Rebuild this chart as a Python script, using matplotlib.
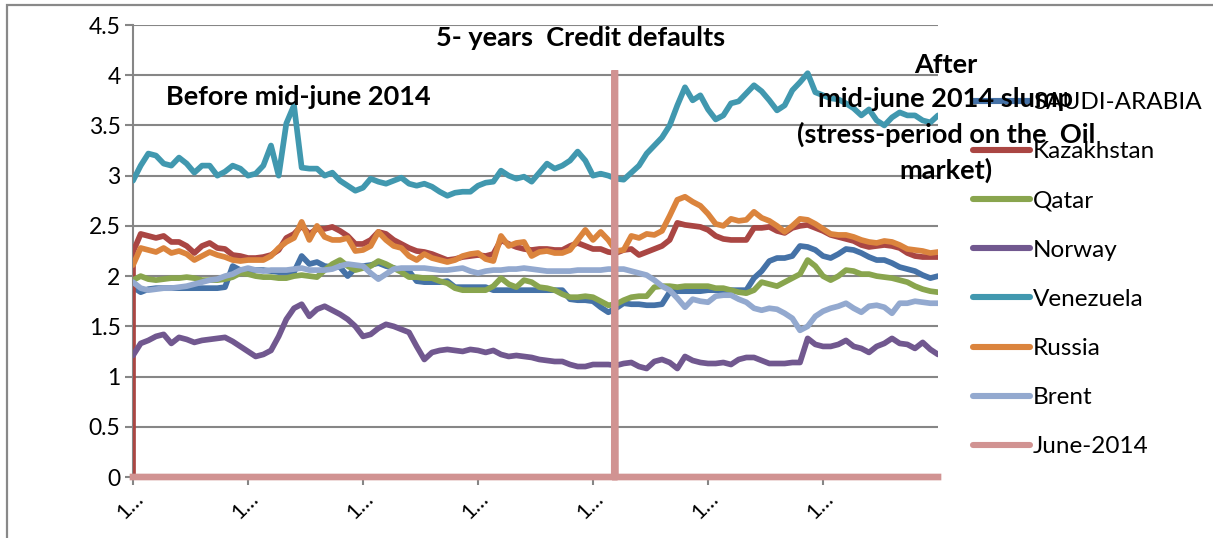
import numpy as np
import matplotlib
matplotlib.use("Agg")
import matplotlib.pyplot as plt
from matplotlib.patches import Rectangle

plt.rcParams['font.family'] = ['Lato', 'DejaVu Sans']

# ---------------- data (sampled readings, 106 samples over ~1400 trading days) ----------------
n_days = 1400
june_day = 838
june_level = 4.05
kaz_first_value = 0.0

saudi = [1.89, 1.84, 1.87, 1.88, 1.88, 1.88, 1.88, 1.88, 1.88, 1.88,
         1.88, 1.88, 1.89, 2.10, 2.06, 2.06, 2.06, 2.06, 2.05, 2.04,
         2.04, 2.04, 2.20, 2.12, 2.14, 2.10, 2.09, 2.09, 2.00, 2.08,
         2.10, 2.11, 2.13, 2.10, 2.08, 2.06, 2.05, 1.95, 1.94, 1.94,
         1.94, 1.95, 1.89, 1.89, 1.89, 1.89, 1.89, 1.86, 1.86, 1.86,
         1.86, 1.86, 1.86, 1.86, 1.86, 1.86, 1.86, 1.77, 1.76, 1.76,
         1.75, 1.69, 1.64, 1.68, 1.73, 1.72, 1.72, 1.71, 1.71, 1.72,
         1.84, 1.85, 1.85, 1.85, 1.85, 1.86, 1.86, 1.86, 1.86, 1.86,
         1.86, 1.98, 2.05, 2.15, 2.18, 2.18, 2.20, 2.30, 2.29, 2.26,
         2.20, 2.18, 2.22, 2.27, 2.26, 2.23, 2.19, 2.16, 2.16, 2.13,
         2.09, 2.07, 2.05, 2.01, 1.98, 2.00]

kazakhstan = [2.24, 2.42, 2.40, 2.38, 2.40, 2.34, 2.34, 2.30, 2.23, 2.30,
              2.33, 2.28, 2.27, 2.21, 2.20, 2.18, 2.18, 2.19, 2.21, 2.26,
              2.38, 2.42, 2.50, 2.42, 2.47, 2.47, 2.49, 2.45, 2.40, 2.32,
              2.32, 2.36, 2.44, 2.42, 2.36, 2.32, 2.28, 2.25, 2.24, 2.22,
              2.19, 2.16, 2.17, 2.19, 2.20, 2.21, 2.20, 2.22, 2.36, 2.32,
              2.29, 2.27, 2.26, 2.27, 2.27, 2.26, 2.26, 2.30, 2.33, 2.30,
              2.27, 2.27, 2.24, 2.23, 2.26, 2.27, 2.21, 2.24, 2.27, 2.30,
              2.36, 2.53, 2.51, 2.50, 2.49, 2.46, 2.40, 2.37, 2.36, 2.36,
              2.36, 2.48, 2.48, 2.49, 2.45, 2.43, 2.48, 2.50, 2.51, 2.48,
              2.45, 2.41, 2.39, 2.37, 2.35, 2.31, 2.29, 2.30, 2.31, 2.30,
              2.28, 2.23, 2.20, 2.19, 2.19, 2.19]

qatar = [1.96, 2.00, 1.97, 1.96, 1.97, 1.98, 1.98, 1.99, 1.98, 1.96,
         1.96, 1.96, 1.97, 1.99, 2.03, 2.02, 2.00, 1.99, 1.99, 1.98,
         1.98, 2.00, 2.01, 2.00, 1.99, 2.06, 2.12, 2.16, 2.10, 2.06,
         2.08, 2.10, 2.15, 2.12, 2.08, 2.04, 1.99, 1.99, 1.98, 1.98,
         1.95, 1.93, 1.88, 1.86, 1.86, 1.86, 1.86, 1.90, 1.98, 1.92,
         1.89, 1.96, 1.94, 1.89, 1.88, 1.86, 1.82, 1.79, 1.79, 1.80,
         1.79, 1.75, 1.71, 1.72, 1.76, 1.79, 1.80, 1.80, 1.89, 1.90,
         1.90, 1.89, 1.90, 1.90, 1.90, 1.90, 1.88, 1.88, 1.86, 1.84,
         1.83, 1.86, 1.94, 1.92, 1.90, 1.94, 1.98, 2.02, 2.16, 2.10,
         2.00, 1.96, 2.00, 2.06, 2.05, 2.02, 2.02, 2.00, 1.99, 1.98,
         1.96, 1.94, 1.90, 1.87, 1.85, 1.84]

norway = [1.21, 1.33, 1.36, 1.40, 1.42, 1.33, 1.39, 1.37, 1.34, 1.36,
          1.37, 1.38, 1.39, 1.35, 1.30, 1.25, 1.20, 1.22, 1.26, 1.40,
          1.57, 1.68, 1.72, 1.60, 1.67, 1.70, 1.66, 1.62, 1.57, 1.50,
          1.40, 1.42, 1.48, 1.52, 1.50, 1.47, 1.44, 1.30, 1.17, 1.24,
          1.26, 1.27, 1.26, 1.25, 1.27, 1.26, 1.24, 1.26, 1.22, 1.20,
          1.21, 1.20, 1.19, 1.17, 1.16, 1.15, 1.15, 1.12, 1.10, 1.10,
          1.12, 1.12, 1.12, 1.11, 1.13, 1.14, 1.10, 1.08, 1.15, 1.17,
          1.14, 1.08, 1.20, 1.16, 1.14, 1.13, 1.13, 1.14, 1.12, 1.17,
          1.19, 1.19, 1.16, 1.13, 1.13, 1.13, 1.14, 1.14, 1.38, 1.32,
          1.30, 1.30, 1.32, 1.36, 1.30, 1.28, 1.24, 1.30, 1.33, 1.38,
          1.33, 1.32, 1.28, 1.34, 1.27, 1.22]

venezuela = [2.95, 3.10, 3.22, 3.20, 3.12, 3.10, 3.18, 3.12, 3.03, 3.10,
             3.10, 3.00, 3.04, 3.10, 3.07, 3.00, 3.02, 3.10, 3.30, 3.00,
             3.52, 3.70, 3.08, 3.07, 3.07, 3.00, 3.03, 2.95, 2.90, 2.85,
             2.88, 2.97, 2.94, 2.92, 2.95, 2.98, 2.92, 2.90, 2.92, 2.89,
             2.84, 2.80, 2.83, 2.84, 2.84, 2.90, 2.93, 2.94, 3.05, 3.00,
             2.97, 2.99, 2.94, 3.03, 3.12, 3.07, 3.10, 3.15, 3.24, 3.15,
             3.00, 3.02, 3.00, 2.97, 2.96, 3.03, 3.10, 3.22, 3.30, 3.38,
             3.50, 3.70, 3.88, 3.75, 3.80, 3.66, 3.56, 3.60, 3.72, 3.74,
             3.82, 3.90, 3.84, 3.75, 3.65, 3.70, 3.85, 3.93, 4.02, 3.83,
             3.80, 3.77, 3.76, 3.72, 3.67, 3.60, 3.66, 3.55, 3.50, 3.58,
             3.63, 3.60, 3.60, 3.55, 3.53, 3.60]

russia = [2.11, 2.28, 2.26, 2.24, 2.28, 2.23, 2.25, 2.22, 2.16, 2.20,
          2.24, 2.21, 2.19, 2.16, 2.15, 2.16, 2.16, 2.16, 2.20, 2.28,
          2.34, 2.38, 2.54, 2.36, 2.50, 2.39, 2.36, 2.36, 2.38, 2.25,
          2.26, 2.30, 2.44, 2.36, 2.30, 2.28, 2.20, 2.16, 2.22, 2.18,
          2.16, 2.14, 2.16, 2.20, 2.22, 2.23, 2.17, 2.15, 2.40, 2.30,
          2.33, 2.34, 2.20, 2.24, 2.25, 2.23, 2.23, 2.26, 2.36, 2.46,
          2.36, 2.44, 2.36, 2.25, 2.26, 2.40, 2.38, 2.42, 2.41, 2.45,
          2.60, 2.76, 2.79, 2.74, 2.70, 2.62, 2.52, 2.50, 2.57, 2.55,
          2.56, 2.64, 2.58, 2.55, 2.50, 2.44, 2.50, 2.57, 2.56, 2.52,
          2.47, 2.42, 2.41, 2.41, 2.39, 2.36, 2.34, 2.33, 2.35, 2.34,
          2.31, 2.27, 2.26, 2.25, 2.23, 2.24]

brent = [1.94, 1.88, 1.86, 1.87, 1.88, 1.88, 1.89, 1.90, 1.92, 1.94,
         1.96, 1.97, 2.00, 2.02, 2.06, 2.08, 2.06, 2.05, 2.06, 2.06,
         2.06, 2.07, 2.08, 2.06, 2.06, 2.06, 2.07, 2.10, 2.12, 2.11,
         2.10, 2.03, 1.97, 2.02, 2.07, 2.08, 2.08, 2.08, 2.08, 2.07,
         2.06, 2.06, 2.07, 2.08, 2.05, 2.03, 2.05, 2.06, 2.06, 2.07,
         2.07, 2.08, 2.07, 2.06, 2.05, 2.05, 2.05, 2.05, 2.06, 2.06,
         2.06, 2.06, 2.07, 2.07, 2.07, 2.05, 2.03, 2.01, 1.96, 1.90,
         1.86, 1.78, 1.69, 1.77, 1.75, 1.74, 1.80, 1.81, 1.81, 1.77,
         1.74, 1.68, 1.66, 1.68, 1.67, 1.63, 1.58, 1.46, 1.50, 1.60,
         1.65, 1.68, 1.70, 1.73, 1.68, 1.64, 1.70, 1.71, 1.69, 1.63,
         1.73, 1.73, 1.75, 1.74, 1.73, 1.73]

series_names = ["SAUDI-ARABIA", "Kazakhstan", "Qatar", "Norway",
                "Venezuela", "Russia", "Brent", "June-2014"]
colors = ["#4572A7", "#AA4643", "#89A54E", "#71588F",
          "#4198AF", "#DB843D", "#93A9CF", "#D19392"]

tick_days = [0, 200, 400, 600, 800, 1000, 1200]
tick_labels = ["1…"] * len(tick_days)
y_ticks = [0, 0.5, 1, 1.5, 2, 2.5, 3, 3.5, 4, 4.5]
y_labels = ["0", "0.5", "1", "1.5", "2", "2.5", "3", "3.5", "4", "4.5"]

# ---------------- figure ----------------
W, H = 1213, 538
fig = plt.figure(figsize=(W / 100, H / 100), dpi=100)
fig.patch.set_facecolor("white")

# outer chart-area border
fig.patches.append(Rectangle((7 / W, -0.2), 1.5, 1.2 - 5 / H, transform=fig.transFigure,
                             fill=False, edgecolor="#898989", linewidth=1.6, zorder=0))

ax = fig.add_axes([133 / W, (H - 477) / H, 805 / W, 452 / H])

days = np.linspace(0, n_days, len(saudi))
june_x = np.arange(n_days + 1)
june_y = np.zeros(n_days + 1)
june_y[june_day] = june_level

data = [saudi, kazakhstan, qatar, norway, venezuela, russia, brent]
lw = 4.1
for i, (name, vals) in enumerate(zip(series_names[:-1], data)):
    x = days
    y = np.asarray(vals)
    if name == "Kazakhstan":
        x = np.r_[days[0], days]
        y = np.r_[kaz_first_value, y]
    ax.plot(x, y, color=colors[i], lw=lw, label=name,
            solid_joinstyle="round", solid_capstyle="round", zorder=3 + i)
ax.plot(june_x, june_y, color=colors[-1], lw=4.8, label=series_names[-1],
        solid_joinstyle="miter", zorder=11, clip_on=False)

ax.set_xlim(0, n_days)
ax.set_ylim(0, 4.5)
ax.set_yticks(y_ticks)
ax.set_yticklabels(y_labels)
ax.set_xticks(tick_days)
ax.set_xticklabels(tick_labels, rotation=45, ha="right", va="top",
                   rotation_mode="anchor")
ax.grid(axis="y", color="#868686", lw=1.5, zorder=0)
ax.set_axisbelow(True)
for s in ["top", "right", "bottom"]:
    ax.spines[s].set_visible(False)
ax.spines["left"].set_color("#868686")
ax.spines["left"].set_linewidth(1.5)
ax.tick_params(axis="y", length=6, width=1.5, color="#868686",
               labelsize=16.5, pad=3)
ax.tick_params(axis="x", length=6, width=1.5, color="#868686",
               labelsize=15.5, pad=2)
ax.set_facecolor("none")

leg = ax.legend(loc="upper left", bbox_to_anchor=(973 / W, (H - 92) / H),
                bbox_transform=fig.transFigure, frameon=False,
                fontsize=17.5, handlelength=2.35, handletextpad=0.12,
                labelspacing=1.16, borderpad=0, borderaxespad=0)
for l in leg.get_lines():
    l.set_linewidth(4.4)
    l.set_solid_capstyle("round")

# annotations
fig.text(581 / W, 1 - 38 / H, "5- years  Credit defaults", ha="center",
         va="center", fontsize=19.5, fontweight="bold", zorder=20)
fig.text(298 / W, 1 - 97 / H, "Before mid-june 2014", ha="center",
         va="center", fontsize=19.5, fontweight="bold", zorder=20)
fig.text(946 / W, 1 - 118 / H,
         "After\nmid-june 2014 slump\n(stress-period on the  Oil\nmarket)",
         ha="center", va="center", fontsize=19.5, fontweight="bold",
         linespacing=1.5, zorder=20)

fig.savefig("out.png", dpi=100)
